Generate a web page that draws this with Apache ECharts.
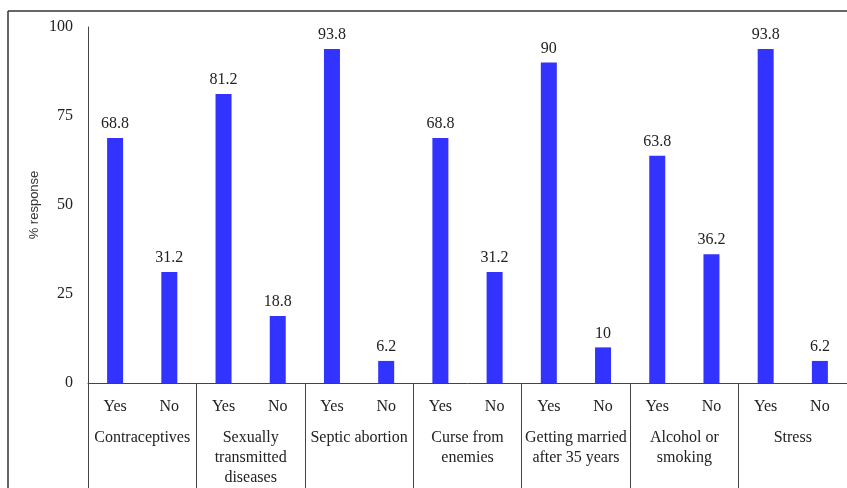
<!DOCTYPE html>
<html>
<head>
<meta charset="utf-8">
<script src="https://cdn.jsdelivr.net/npm/echarts@6/dist/echarts.min.js"></script>
<style>
  html, body { margin: 0; padding: 0; background: #fff; }
  #main { width: 847px; height: 488px; }
</style>
</head>
<body>
<div id="main"></div>
<script>
// groups and answers
var groups = ["Contraceptives", "Sexually\ntransmitted\ndiseases", "Septic abortion",
  "Curse from\nenemies", "Getting married\nafter 35 years", "Alcohol or\nsmoking", "Stress"];
var answers = ["Yes", "No"];
var yesValues = [68.8, 81.2, 93.8, 68.8, 90, 63.8, 93.8];
var noValues = [31.2, 18.8, 6.2, 31.2, 10, 36.2, 6.2];
var yTicks = [0, 25, 50, 75, 100];

var cats = [];
var vals = [];
for (var i = 0; i < groups.length; i++) {
  cats.push(answers[0], answers[1]);
  vals.push(yesValues[i], noValues[i]);
}

var font = "'Liberation Serif', 'Times New Roman', serif";
var ink = "#222";

var chart = echarts.init(document.getElementById("main"));
chart.setOption({
  backgroundColor: "#fff",
  animation: false,
  grid: { left: 88, right: 0, top: 27, bottom: 104, containLabel: false },
  xAxis: [
    {
      type: "category",
      data: cats,
      axisLine: { show: true, lineStyle: { color: "#444", width: 1 } },
      axisTick: { show: false },
      axisLabel: { interval: 0, margin: 14, color: ink, fontFamily: font, fontSize: 16, lineHeight: 20 }
    },
    {
      type: "category",
      data: groups,
      position: "bottom",
      axisLine: { show: false },
      axisTick: { show: true, length: 110, interval: 0, lineStyle: { color: "#444", width: 1 } },
      axisLabel: { interval: 0, margin: 45, color: ink, fontFamily: font, fontSize: 16, lineHeight: 20, verticalAlign: "top" }
    }
  ],
  yAxis: {
    type: "value",
    min: yTicks[0],
    max: yTicks[yTicks.length - 1],
    interval: 25,
    name: "% response",
    nameLocation: "middle",
    nameRotate: 90,
    nameGap: 47,
    nameMoveOverlap: false,
    nameTextStyle: { color: "#333", fontFamily: "'Liberation Sans', Arial, sans-serif", fontSize: 13 },
    axisLine: { show: true, lineStyle: { color: "#444", width: 1 } },
    axisTick: { show: false },
    splitLine: { show: false },
    axisLabel: { margin: 15, color: ink, fontFamily: font, fontSize: 16 }
  },
  graphic: [
    { type: "line", shape: { x1: 8, y1: 11, x2: 847, y2: 11 }, style: { stroke: "#333", lineWidth: 1.5 } },
    { type: "line", shape: { x1: 8, y1: 11, x2: 8, y2: 488 }, style: { stroke: "#333", lineWidth: 1.5 } }
  ],
  series: [
    {
      type: "bar",
      data: vals,
      barWidth: 16,
      itemStyle: { color: "#3333ff" },
      label: { show: true, position: "top", distance: 6, color: ink, fontFamily: font, fontSize: 16 }
    }
  ]
});
</script>
</body>
</html>
